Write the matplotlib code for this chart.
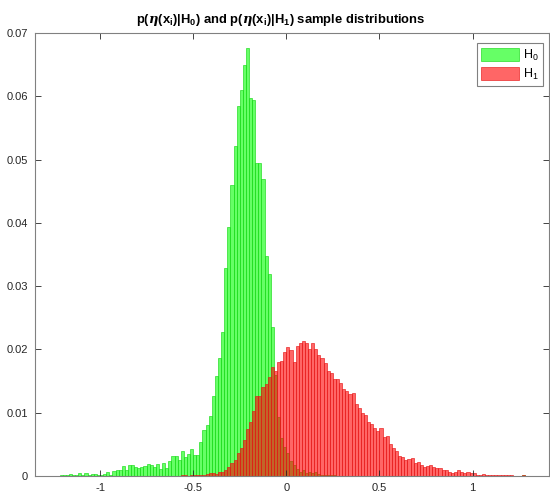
import numpy as np
import matplotlib
matplotlib.use("Agg")
import matplotlib.pyplot as plt

# ---- data (probability per bin) ----
bin_width = 1.0 / 60.0

green_first_bin = -73
green_probs = [
    0.0001, 0.0001, 0.0001, 0.0003, 0.00015, 0.0001, 0.0004, 0.00015, 0.0005, 0.00015,
    0.0003, 0.0003, 0.0001, 0.00015, 0.0003, 0.0007, 0.0002, 0.0008, 0.0009, 0.0010,
    0.0016, 0.0010, 0.0017, 0.0017, 0.0014, 0.0013, 0.0014, 0.0016, 0.0019, 0.0017,
    0.0015, 0.0019, 0.0011, 0.0021, 0.0013, 0.0024, 0.0031, 0.0032, 0.0025, 0.0039,
    0.0030, 0.0035, 0.0042, 0.0033, 0.0033, 0.0053, 0.0073, 0.0080, 0.0095, 0.0126,
    0.0158, 0.0186, 0.0228, 0.0328, 0.0393, 0.0460, 0.0522, 0.0585, 0.0610, 0.0649,
    0.0677, 0.0597, 0.0594, 0.0495, 0.0495, 0.0469, 0.0348, 0.0319, 0.0236, 0.0160,
    0.0094, 0.0060, 0.0046, 0.0036, 0.0023, 0.0017, 0.0011, 0.0007, 0.0009, 0.0005,
    0.0006, 0.0004, 0.0007, 0.0003, 0.0002, 0.0002, 0.0001, 0.0001, 0.0001,
]
green_extra_bin = 76
green_extra_prob = 0.0002

red_first_bin = -34
red_probs = [
    0.0001, 0.0001, 0.0, 0.0001, 0.0001, 0.0001, 0.0001, 0.0002, 0.0003, 0.0004,
    0.0004, 0.0003, 0.0006, 0.0007, 0.0010, 0.0015, 0.0020, 0.0025, 0.0036, 0.0045,
    0.0057, 0.0074, 0.0086, 0.0102, 0.0126, 0.0126, 0.0140, 0.0145, 0.0157, 0.0173,
    0.0166, 0.0180, 0.0181, 0.0196, 0.0204, 0.0199, 0.0180, 0.0205, 0.0210, 0.0214,
    0.0210, 0.0200, 0.0210, 0.0200, 0.0191, 0.0186, 0.0178, 0.0166, 0.0163, 0.0153,
    0.0153, 0.0147, 0.0138, 0.0135, 0.0130, 0.0131, 0.0113, 0.0108, 0.0100, 0.0097,
    0.0085, 0.0082, 0.0076, 0.0071, 0.0076, 0.0062, 0.0063, 0.0050, 0.0045, 0.0040,
    0.0031, 0.0030, 0.0025, 0.0027, 0.0029, 0.0021, 0.0022, 0.0018, 0.0015, 0.0016,
    0.0017, 0.0015, 0.0013, 0.0012, 0.0009, 0.0010, 0.0006, 0.0005, 0.0006, 0.0010,
    0.0007, 0.0005, 0.0006, 0.0005, 0.0004, 0.0002, 0.0002, 0.0003, 0.0002, 0.0001,
    0.0002, 0.0002, 0.0002, 0.0002, 0.0002, 0.0001, 0.0001, 0.0, 0.0, 0.0, 0.0002,
]

x_ticks = [-1, -0.5, 0, 0.5, 1]
x_tick_labels = ["-1", "-0.5", "0", "0.5", "1"]
y_ticks = [0, 0.01, 0.02, 0.03, 0.04, 0.05, 0.06, 0.07]
y_tick_labels = ["0", "0.01", "0.02", "0.03", "0.04", "0.05", "0.06", "0.07"]
legend_labels = [r"H$_\mathregular{0}$", r"H$_\mathregular{1}$"]
title_text = (r"p($\mathbfit{\eta}$(x$_\mathbf{i}$)|H$_\mathbf{0}$) and "
              r"p($\mathbfit{\eta}$(x$_\mathbf{i}$)|H$_\mathbf{1}$) sample distributions")

# ---- plotting ----
plt.rcParams["font.family"] = ["Liberation Sans", "DejaVu Sans"]
plt.rcParams["mathtext.fontset"] = "custom"
plt.rcParams["mathtext.rm"] = "Liberation Sans"
plt.rcParams["mathtext.bf"] = "Liberation Sans:bold"
plt.rcParams["mathtext.it"] = "DejaVu Serif:italic"
plt.rcParams["mathtext.bfit"] = "DejaVu Serif:italic:bold"

fig = plt.figure(figsize=(5.5, 5.01), dpi=100)
ax = fig.add_axes([35 / 550, 1 - 476 / 501, 514 / 550, 443 / 501])

g_left = (green_first_bin + np.arange(len(green_probs))) * bin_width
r_left = (red_first_bin + np.arange(len(red_probs))) * bin_width

g_face = (0.0, 1.0, 0.0, 0.6)
g_edge = (0.1, 0.85, 0.1, 0.9)
r_face = (1.0, 0.0, 0.0, 0.6)
r_edge = (0.9, 0.1, 0.1, 0.9)

ax.bar(g_left, green_probs, width=bin_width, align="edge",
       facecolor=g_face, edgecolor=g_edge, linewidth=0.5, label=legend_labels[0])
ax.bar([green_extra_bin * bin_width], [green_extra_prob], width=bin_width, align="edge",
       facecolor=g_face, edgecolor=g_edge, linewidth=0.5)
ax.bar(r_left, red_probs, width=bin_width, align="edge",
       facecolor=r_face, edgecolor=r_edge, linewidth=0.5, label=legend_labels[1])

ax.set_xlim(-1.349, 1.41)
ax.set_ylim(0, 0.07)
ax.set_xticks(x_ticks)
ax.set_xticklabels(x_tick_labels)
ax.set_yticks(y_ticks)
ax.set_yticklabels(y_tick_labels)

ax.tick_params(direction="in", length=4, width=0.6, colors="#262626",
               labelsize=8, top=True, right=True, pad=5)
for s in ax.spines.values():
    s.set_color("#808080")
    s.set_linewidth(0.8)

ax.set_title(title_text, fontsize=9.4, fontweight="bold", pad=7, color="#000000",
             x=0.478)

leg = ax.legend(loc="upper right", bbox_to_anchor=(0.9925, 0.983), fontsize=9,
                handlelength=3.0, handleheight=1.2, fancybox=False, framealpha=1,
                edgecolor="#808080", borderpad=0.35, labelspacing=0.35,
                handletextpad=0.3, borderaxespad=0.2)
leg.get_frame().set_linewidth(0.8)

fig.savefig("out.png", dpi=100)
